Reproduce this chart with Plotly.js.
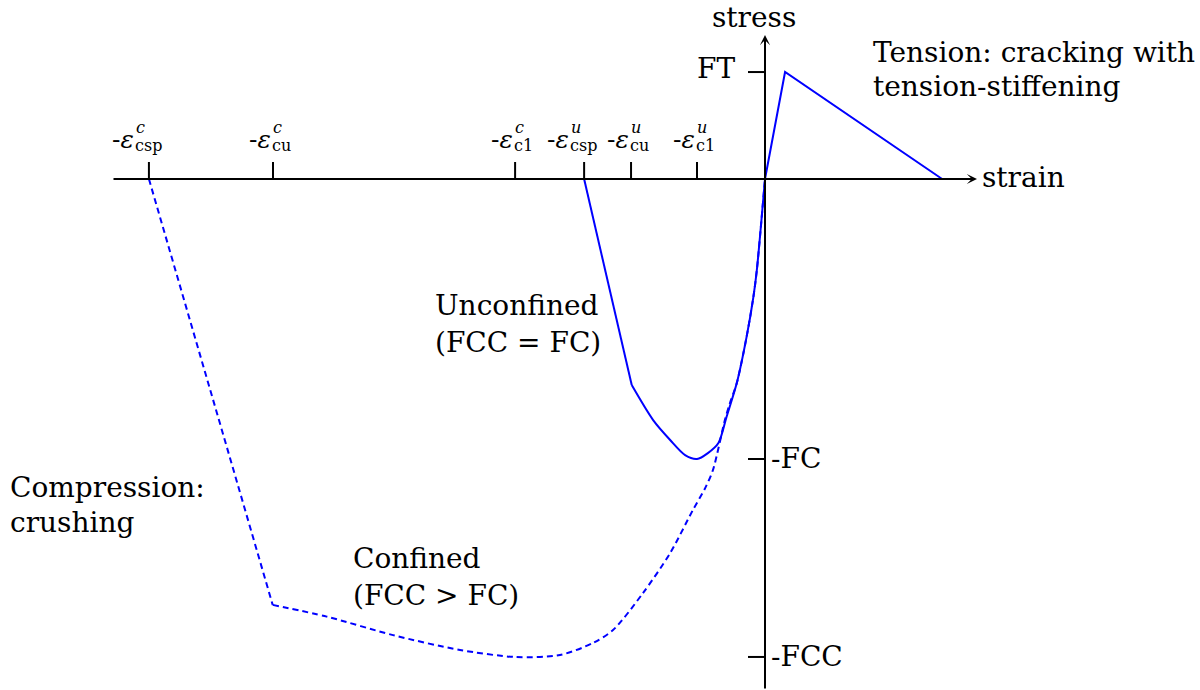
<!DOCTYPE html>
<html><head><meta charset="utf-8">
<script src="https://cdn.plot.ly/plotly-3.0.1.min.js"></script>
<style>html,body{margin:0;padding:0;background:#fff}#chart{width:1200px;height:690px}</style>
</head><body><div id="chart"></div>
<script>
// Schematic concrete stress-strain law. Strain in units of 1e-3 (schematic), stress in units of FC.
const strainTicks = [-18.12, -14.47, -7.35, -5.32, -3.94, -2.0];
const tickSup = ['c', 'c', 'c', 'u', 'u', 'u'];
const tickSub = ['csp', 'cu', 'c1', 'csp', 'cu', 'c1'];

const stressTicks = [0.382, -1.0, -1.707];
const stressTickLabels = ['FT', '-FC', '-FCC'];

// Unconfined compression branch (solid): straight spalling segment, then curved branch to the origin
const unconfinedSpallStrain = [-5.32, -3.92];
const unconfinedSpallStress = [0, -0.736];
const unconfinedStrain = [-3.92, -3.29, -2.79, -2.35, -2.0, -1.68, -1.37, -1.13, -0.83, -0.54, -0.34, -0.24, 0];
const unconfinedStress = [-0.736, -0.861, -0.932, -0.986, -1.0, -0.979, -0.943, -0.849, -0.729, -0.563, -0.420, -0.325, 0];

// Tension branch (solid)
const tensionStrain = [0, 0.59, 5.21];
const tensionStress = [0, 0.382, 0];

// Confined compression branch (dashed)
const confinedSpallStrain = [-18.12, -14.48];
const confinedSpallStress = [0, -1.521];
const confinedStrain = [-14.48, -12.89, -10.94, -8.97, -7.35, -6.03, -5.06, -4.47, -3.59, -2.79, -2.12, -1.76, -1.53, -1.18, -1.03, -0.83, -0.54, -0.34, -0.24, 0];
const confinedStress = [-1.521, -1.563, -1.629, -1.682, -1.707, -1.700, -1.657, -1.611, -1.479, -1.336, -1.182, -1.104, -1.039, -0.861, -0.80, -0.729, -0.563, -0.420, -0.325, 0];

// Text labels
const labelTexts = ['stress', 'strain', 'Tension: cracking with', 'tension-stiffening',
  'Unconfined', '(FCC = FC)', 'Confined', '(FCC > FC)', 'Compression:', 'crushing'];

// ---------- layout helpers (pixel geometry of the figure) ----------
const W = 1200, H = 690;
const XR = [-22.5, 12.794], YR = [-1.825, 0.6393];
const FONT = 'DejaVu Serif';
const BLUE = '#0000ff';
const px = v => v / W;
const py = v => 1 - v / H;
const dx = p => XR[0] + (XR[1] - XR[0]) * p / W;
const dy = p => YR[1] - (YR[1] - YR[0]) * p / H;

const dashed = {color: BLUE, width: 2, dash: '6px,4px'};
const solid = {color: BLUE, width: 2};
const traces = [
  {x: confinedSpallStrain, y: confinedSpallStress, mode: 'lines', type: 'scatter', line: dashed, hoverinfo: 'skip'},
  {x: confinedStrain, y: confinedStress, mode: 'lines', type: 'scatter', line: Object.assign({shape: 'spline', smoothing: 0.8}, dashed), hoverinfo: 'skip'},
  {x: unconfinedSpallStrain, y: unconfinedSpallStress, mode: 'lines', type: 'scatter', line: solid, hoverinfo: 'skip'},
  {x: unconfinedStrain, y: unconfinedStress, mode: 'lines', type: 'scatter', line: Object.assign({shape: 'spline', smoothing: 0.8}, solid), hoverinfo: 'skip'},
  {x: tensionStrain, y: tensionStress, mode: 'lines', type: 'scatter', line: solid, hoverinfo: 'skip'}
];

const tickLenX = (YR[1] - YR[0]) * 17 / H;
const tickLenY = (XR[1] - XR[0]) * 17 / W;
const shapes = [];
strainTicks.forEach(t => shapes.push({type: 'line', xref: 'x', yref: 'y', x0: t, x1: t, y0: 0, y1: tickLenX,
  line: {color: 'black', width: 2}}));
stressTicks.forEach(s => shapes.push({type: 'line', xref: 'x', yref: 'y', x0: -tickLenY, x1: 0, y0: s, y1: s,
  line: {color: 'black', width: 2}}));

const annotations = [];
annotations.push({xref: 'x', yref: 'y', axref: 'x', ayref: 'y', x: dx(977), y: 0, ax: dx(112), ay: 0,
  text: '', showarrow: true, arrowhead: 3, arrowsize: 0.85, arrowwidth: 2, arrowcolor: 'black', standoff: 0, startstandoff: 0});
annotations.push({xref: 'x', yref: 'y', axref: 'x', ayref: 'y', x: 0, y: dy(35), ax: 0, ay: YR[0],
  text: '', showarrow: true, arrowhead: 3, arrowsize: 0.85, arrowwidth: 2, arrowcolor: 'black', standoff: 0, startstandoff: 0});

// strain tick labels: -ε with stacked superscript / subscript
strainTicks.forEach((t, i) => {
  const shifted = tickSub[i] === 'csp';
  const epsShift = shifted ? -14 : -1;
  const subShift = shifted ? -15 : -2;
  annotations.push({xref: 'x', yref: 'y', x: t, y: 0, xanchor: 'right', yanchor: 'middle', xshift: epsShift, yshift: 40,
    borderpad: 0, text: '-<i>ε</i>', showarrow: false, font: {family: FONT, size: 25, color: 'black'}});
  annotations.push({xref: 'x', yref: 'y', x: t, y: 0, xanchor: 'left', yanchor: 'middle', xshift: subShift + 1, yshift: 52,
    borderpad: 0, text: '<i>' + tickSup[i] + '</i>', showarrow: false, font: {family: FONT, size: 16, color: 'black'}});
  annotations.push({xref: 'x', yref: 'y', x: t, y: 0, xanchor: 'left', yanchor: 'middle', xshift: subShift, yshift: 34,
    borderpad: 0, text: tickSub[i], showarrow: false, font: {family: FONT, size: 16, color: 'black'}});
});

// stress tick labels
annotations.push({xref: 'paper', yref: 'y', x: px(737), y: stressTicks[0], xanchor: 'right', yanchor: 'middle', yshift: 4,
  text: stressTickLabels[0], showarrow: false, font: {family: FONT, size: 28, color: 'black'}});
annotations.push({xref: 'paper', yref: 'y', x: px(769), y: stressTicks[1], xanchor: 'left', yanchor: 'middle', yshift: 1,
  text: stressTickLabels[1], showarrow: false, font: {family: FONT, size: 28, color: 'black'}});
annotations.push({xref: 'paper', yref: 'y', x: px(769), y: stressTicks[2], xanchor: 'left', yanchor: 'middle', yshift: 0,
  text: stressTickLabels[2], showarrow: false, font: {family: FONT, size: 28, color: 'black'}});

// free text labels: [text index, x pixel, y pixel centre, anchor]
const textPos = [[0, 754, 17, 'center'], [1, 980, 177, 'left'], [2, 871, 52, 'left'], [3, 871, 87, 'left'],
  [4, 433, 305, 'left'], [5, 433, 343, 'left'], [6, 351, 558, 'left'], [7, 351, 595, 'left'],
  [8, 8, 487, 'left'], [9, 8, 522, 'left']];
textPos.forEach(([i, x, y, a]) => annotations.push({xref: 'paper', yref: 'paper', x: px(x), y: py(y),
  xanchor: a, yanchor: 'middle', text: labelTexts[i], showarrow: false,
  font: {family: FONT, size: 28, color: 'black'}}));

const layout = {
  width: W, height: H, margin: {l: 0, r: 0, t: 0, b: 0},
  paper_bgcolor: 'white', plot_bgcolor: 'white', showlegend: false,
  xaxis: {range: XR, visible: false, fixedrange: true},
  yaxis: {range: YR, visible: false, fixedrange: true},
  shapes: shapes, annotations: annotations
};
Plotly.newPlot('chart', traces, layout, {staticPlot: true, displayModeBar: false});
</script>
</body></html>
